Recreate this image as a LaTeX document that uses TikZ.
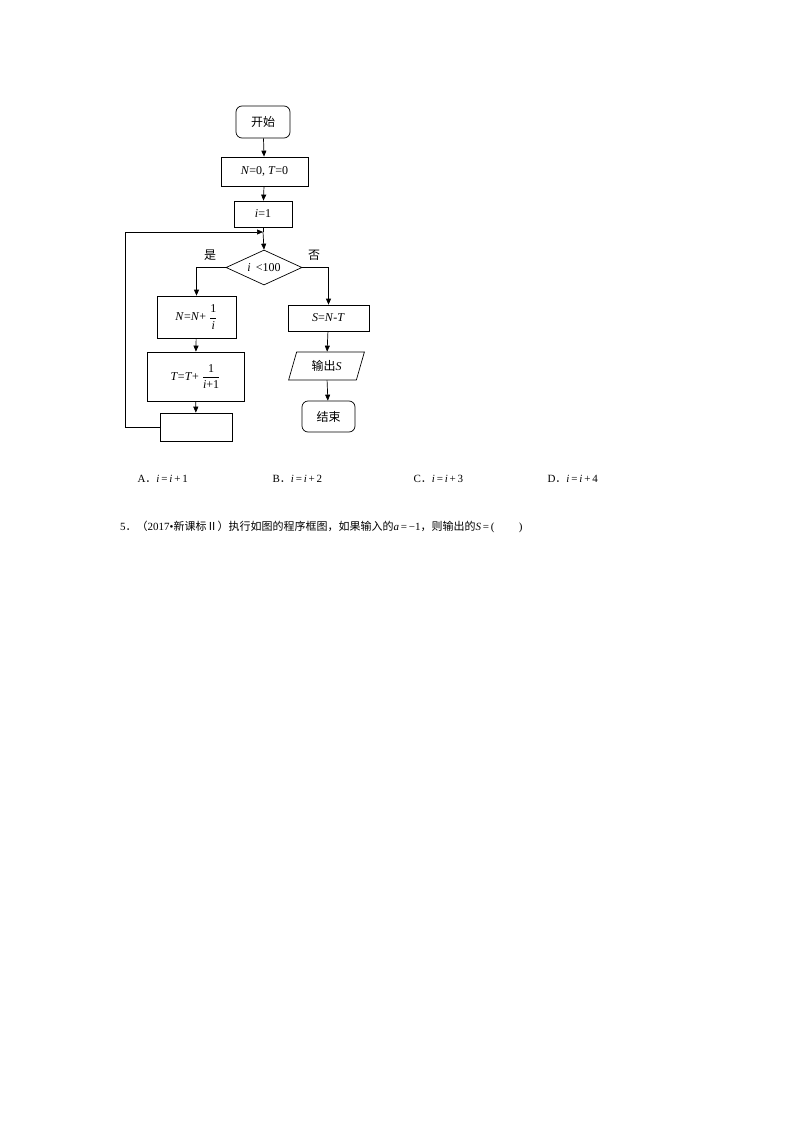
\documentclass[tikz,border=0pt]{standalone}
\usepackage{fontspec}
\setmainfont{Liberation Serif}
\newfontfamily\cjk{Noto Sans CJK SC}
\usetikzlibrary{arrows.meta,shapes.geometric}
\newcommand{\myfr}[2]{$\vcenter{\hbox{\begin{tabular}{@{}c@{}}#1\\[-3pt]\rule{#2}{0.5pt}\end{tabular}}}$}
\begin{document}
\begin{tikzpicture}[x=1pt,y=-1pt,
  box/.style={draw,line width=0.7pt,minimum height=#1,inner sep=0pt},
  arr/.style={draw,line width=0.7pt,-{Triangle[length=6pt,width=5pt]}},
  ln/.style={draw,line width=0.7pt},
  lab/.style={font=\fontsize{12}{14}\selectfont}]
\useasboundingbox (0,0) rectangle (794,1123);
\node[box=32pt,rounded corners=6pt,minimum width=54pt,lab] (start) at (263,122) {\cjk 开始};
\node[box=29pt,minimum width=87pt,lab] (init) at (264.5,171.5) {\textit{N}=0, \textit{T}=0};
\node[box=26pt,minimum width=58pt,lab] (i1) at (263,214) {\textit{i}=1};
\coordinate (j) at (263,232);
\node[draw,line width=0.7pt,diamond,aspect=2.2,minimum width=76pt,minimum height=35pt,inner sep=0pt,lab] (d) at (264,267.5) {\textit{i} \,<100};
\node[box=42pt,minimum width=79pt,lab] (nb) at (196.5,317) {\textit{N}=\textit{N}+ $\displaystyle\frac{\mbox{1}}{\mbox{\textit{i}}}$};
\node[box=49pt,minimum width=97pt,lab] (tb) at (195.5,376.5) {\textit{T}=\textit{T}+ $\displaystyle\frac{\mbox{1}}{\mbox{\textit{i}+1}}$};
\node[box=28pt,minimum width=72pt] (eb) at (196,427) {};
\node[box=26pt,minimum width=81pt,lab] (sb) at (328.5,318) {\textit{S}=\textit{N}-\textit{T}};
\node[draw,line width=0.7pt,trapezium,trapezium left angle=70,trapezium right angle=110,minimum width=76pt,minimum height=28pt,inner sep=0pt,lab,trapezium stretches=true] (out) at (326.5,366) {{\cjk 输出}\textit{S}};
\node[box=31pt,rounded corners=6pt,minimum width=53pt,lab] (end) at (328.5,416.5) {\cjk 结束};
\node[lab] (yes) at (210,255) {\cjk 是};
\node[lab] (no) at (314,255) {\cjk 否};
\draw[arr] (start) -- (init);
\draw[arr] (init) -- (i1);
\draw[ln] (i1) -- (j);
\draw[arr] (j) -- (d.north);
\draw[arr] (d.west) -| (nb.north);
\draw[arr] (nb) -- (tb);
\draw[arr] (tb) -- (eb);
\coordinate (c1) at (125,427);
\coordinate (c2) at (125,232);
\draw[ln] (eb.west) -- (c1) -- (c2);
\draw[arr] (c2) -- (j);
\draw[arr] (d.east) -| (sb.north);
\draw[arr] (sb) -- (out);
\draw[arr] (out) -- (end);
\node[anchor=west,font=\fontsize{11}{13}\selectfont] (oa) at (134,479) {A{\cjk ．}\textit{i}\,=\,\textit{i}\,+\,1};
\node[anchor=west,font=\fontsize{11}{13}\selectfont] (ob) at (269,479) {B{\cjk ．}\textit{i}\,=\,\textit{i}\,+\,2};
\node[anchor=west,font=\fontsize{11}{13}\selectfont] (oc) at (410,479) {C{\cjk ．}\textit{i}\,=\,\textit{i}\,+\,3};
\node[anchor=west,font=\fontsize{11}{13}\selectfont] (od) at (544,479) {D{\cjk ．}\textit{i}\,=\,\textit{i}\,+\,4};
\node[anchor=west,font=\fontsize{11}{13}\selectfont,inner sep=0pt] (q5) at (120,527) {5{\cjk ．（}2017•{\cjk 新课标Ⅱ）执行如图的程序框图，如果输入的}\textit{a}\,=\,−1{\cjk ，则输出的}\textit{S}\,=\,(\hspace{2.2em})};
\end{tikzpicture}
\end{document}
